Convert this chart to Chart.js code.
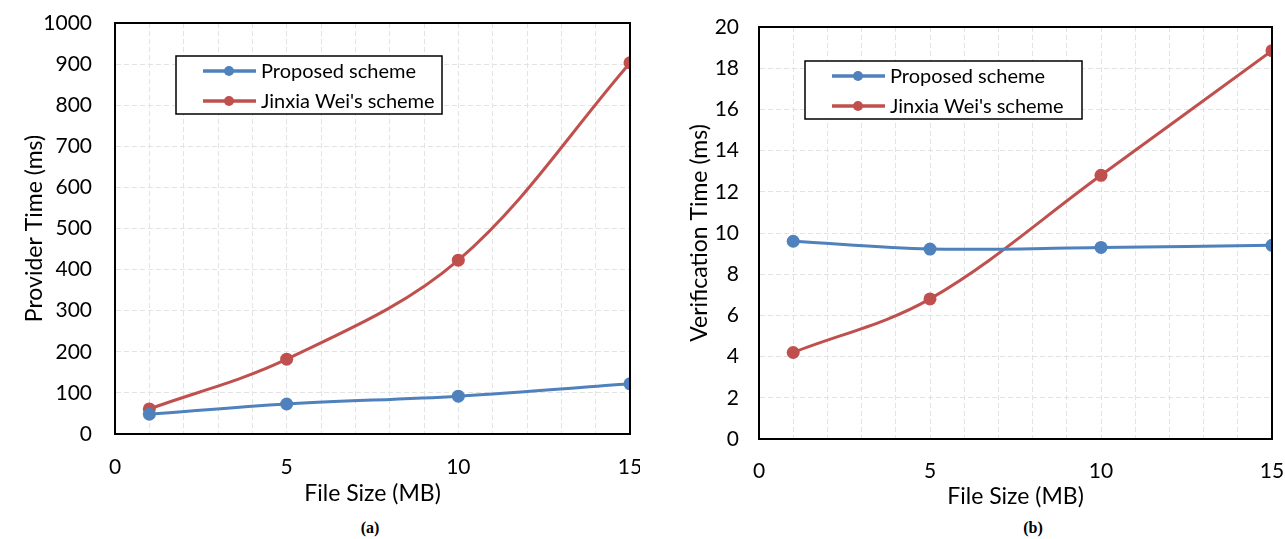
<!DOCTYPE html>
<html>
<head>
<meta charset="utf-8">
<script src="https://cdn.jsdelivr.net/npm/chart.js@4.4.0/dist/chart.umd.min.js"></script>
<style>
  body { margin: 0; background: #fff; }
  .wrap { position: absolute; top: 0; height: 510px; }
  .caption { position: absolute; top: 519px; font: bold 16px "Liberation Serif", serif; color: #000; transform: translateX(-50%); }
</style>
</head>
<body>
<div class="wrap" style="left:0;width:640px"><canvas id="chartA"></canvas></div>
<div class="wrap" style="left:640px;width:645px"><canvas id="chartB"></canvas></div>
<div class="caption" style="left:370px">(a)</div>
<div class="caption" style="left:1033px">(b)</div>
<script>
const fileSizes = [1, 5, 10, 15]
const seriesNames = ['Proposed scheme', "Jinxia Wei's scheme"]
const providerProposed = [48, 73, 92, 122]
const providerWei = [61, 182, 423, 903]
const verifyProposed = [9.6, 9.22, 9.3, 9.4]
const verifyWei = [4.2, 6.8, 12.8, 18.85]

const BLUE = '#4f81bd'
const RED = '#c0504d'
const FONT = 'Lato, "Open Sans", sans-serif'

const toPoints = function (ys) {
    return fileSizes.map(function (x, i) { return { x: x, y: ys[i] } })
}

const makeDataset = function (label, ys, color) {
    return {
        label: label,
        data: toPoints(ys),
        showLine: true,
        borderColor: color,
        backgroundColor: color,
        borderWidth: 3,
        tension: 0.35,
        pointRadius: 6.5,
        pointBorderWidth: 0,
        pointBackgroundColor: color,
    }
}

// box round the plot area + framed legend, like the Excel original
const framePlugin = {
    id: 'frame',
    afterDatasetsDraw: function (chart, args, opts) {
        const ctx = chart.ctx
        const a = chart.chartArea
        ctx.save()
        ctx.strokeStyle = '#000'
        ctx.lineWidth = 2
        ctx.strokeRect(a.left, a.top, a.right - a.left, a.bottom - a.top)

        const x0 = a.left + opts.dx
        const y0 = a.top + opts.dy
        ctx.font = '20px ' + FONT
        ctx.fillStyle = '#fff'
        ctx.fillRect(x0, y0, opts.w, 58)
        ctx.lineWidth = 1.5
        ctx.strokeRect(x0, y0, opts.w, 58)
        chart.data.datasets.forEach(function (ds, i) {
            const y = y0 + 15 + i * 30
            ctx.strokeStyle = ds.borderColor
            ctx.lineWidth = 3.5
            ctx.beginPath()
            ctx.moveTo(x0 + 27, y)
            ctx.lineTo(x0 + 80, y)
            ctx.stroke()
            ctx.fillStyle = ds.borderColor
            ctx.beginPath()
            ctx.arc(x0 + 53, y, 5, 0, Math.PI * 2)
            ctx.fill()
            ctx.fillStyle = '#000'
            ctx.textBaseline = 'middle'
            ctx.fillText(ds.label, x0 + 85, y + 1)
        })
        ctx.restore()
    }
}

const makeChart = function (id, ySeries, yMax, yStep, yTitle, cfg) {
    return new Chart(document.getElementById(id), {
        type: 'scatter',
        data: {
            datasets: [
                makeDataset(seriesNames[0], ySeries[0], BLUE),
                makeDataset(seriesNames[1], ySeries[1], RED)
            ]
        },
        plugins: [framePlugin],
        options: {
            responsive: true,
            maintainAspectRatio: false,
            animation: false,
            layout: { padding: { top: cfg.top, right: cfg.right, left: 0, bottom: 0 } },
            plugins: {
                legend: { display: false },
                tooltip: { enabled: false },
                frame: cfg.legend
            },
            scales: {
                x: {
                    type: 'linear',
                    min: 0,
                    max: 15,
                    afterFit: function (s) {
                        s.height = cfg.xHeight
                        s.paddingLeft = 0
                        s.paddingRight = 0
                    },
                    border: { display: true, color: '#000', width: 2, dash: [5, 3] },
                    grid: { color: '#e3e3e3', lineWidth: 1, drawTicks: false },
                    ticks: {
                        stepSize: 1,
                        padding: cfg.xPad,
                        maxRotation: 0,
                        autoSkip: false,
                        color: '#000',
                        font: { family: FONT, size: 21 },
                        callback: function (v) { return v % 5 === 0 ? v : '' }
                    },
                    title: {
                        display: true,
                        text: 'File Size (MB)',
                        color: '#000',
                        font: { family: FONT, size: 23 },
                        padding: { top: 0, bottom: cfg.xTitlePad }
                    }
                },
                y: {
                    min: 0,
                    max: yMax,
                    afterFit: function (s) {
                        s.width = cfg.yWidth
                        s.paddingTop = 0
                        s.paddingBottom = 0
                    },
                    border: { display: true, color: '#000', width: 2, dash: [5, 3] },
                    grid: { color: '#e3e3e3', lineWidth: 1, drawTicks: false },
                    ticks: {
                        stepSize: yStep,
                        padding: cfg.yPad,
                        color: '#000',
                        font: { family: FONT, size: 21 },
                        callback: function (v) { return v }
                    },
                    title: {
                        display: true,
                        text: yTitle,
                        color: '#000',
                        font: { family: FONT, size: 23 },
                        padding: { top: cfg.yTitlePad, bottom: 0 }
                    }
                }
            }
        }
    })
}

makeChart('chartA', [providerProposed, providerWei], 1000, 100, 'Provider Time (ms)', {
    top: 23, right: 10, xHeight: 76, yWidth: 115, xPad: 21, yPad: 23, xTitlePad: 3, yTitlePad: 21,
    legend: { dx: 61, dy: 33, w: 266 }
})
makeChart('chartB', [verifyProposed, verifyWei], 20, 2, 'Verification Time (ms)', {
    top: 27, right: 13, xHeight: 71, yWidth: 119, xPad: 20, yPad: 20, xTitlePad: 0, yTitlePad: 46,
    legend: { dx: 46, dy: 34, w: 277 }
})
</script>
</body>
</html>
